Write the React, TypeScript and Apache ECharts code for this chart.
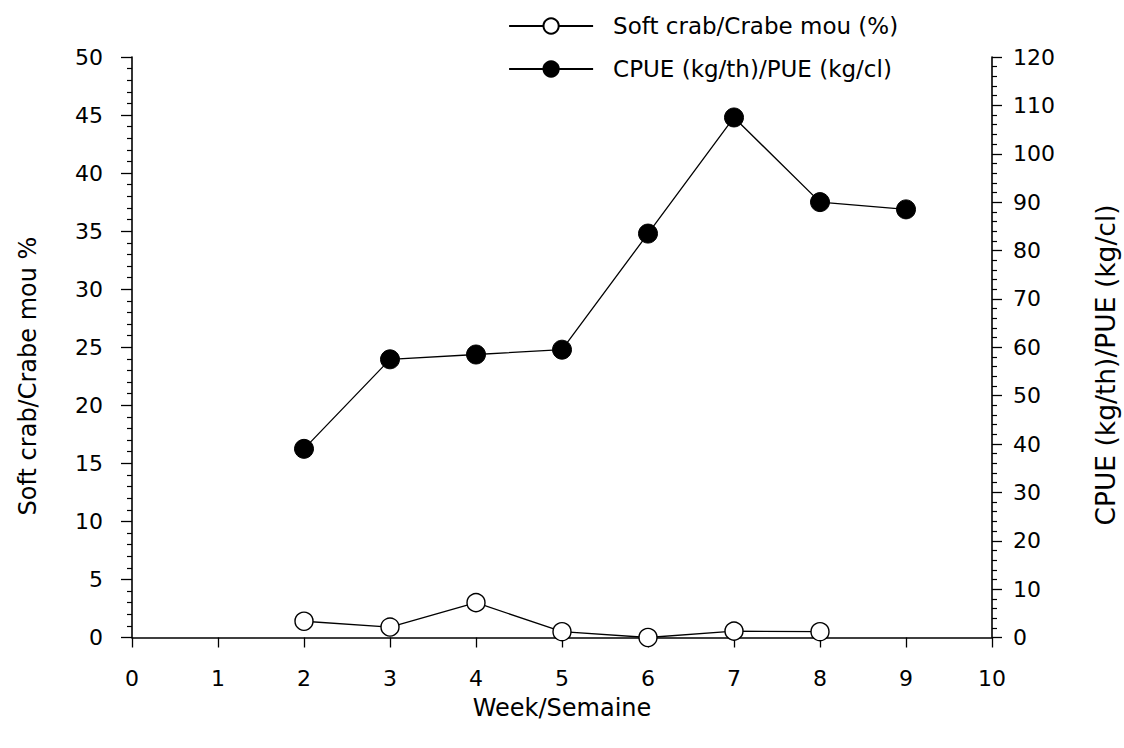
import React, { useEffect, useRef } from "react";
import * as echarts from "echarts";

// Weekly values
const softWeeks = [2, 3, 4, 5, 6, 7, 8];
const softCrabPct = [1.4, 0.9, 3.0, 0.5, 0, 0.55, 0.5];

const cpueWeeks = [2, 3, 4, 5, 6, 7, 8, 9];
const cpueValues = [39, 57.5, 58.5, 59.5, 83.5, 107.5, 90, 88.5];

const softName = "Soft crab/Crabe mou (%)";
const cpueName = "CPUE (kg/th)/PUE (kg/cl)";
const xTitle = "Week/Semaine";
const leftTitle = "Soft crab/Crabe mou %";
const rightTitle = "CPUE (kg/th)/PUE (kg/cl)";

const FONT = "DejaVu Sans";

export default function App() {
  const ref = useRef<HTMLDivElement>(null);

  useEffect(() => {
    if (!ref.current) return;
    const chart = echarts.init(ref.current, null, { renderer: "svg" });

    const softData = softWeeks.map((w, i) => [w, softCrabPct[i]]);
    const cpueData = cpueWeeks.map((w, i) => [w, cpueValues[i]]);

    const axisLine = { show: true, lineStyle: { color: "#000", width: 1.6 } };
    const labelStyle = { color: "#000", fontFamily: FONT, fontSize: 22 };

    chart.setOption({
      animation: false,
      backgroundColor: "#fff",
      grid: { left: 132, right: 132, top: 57, bottom: 110.5, containLabel: false },
      legend: {
        orient: "vertical",
        left: 503,
        top: 9,
        itemWidth: 84,
        itemHeight: 19,
        itemGap: 19,
        lineStyle: { width: 2.2 },
        textStyle: {
          color: "#000",
          fontFamily: FONT,
          fontSize: 23,
          lineHeight: 24,
          padding: [0, 0, 0, 15],
        },
        data: [softName, cpueName],
      },
      xAxis: {
        type: "value",
        min: 0,
        max: 10,
        interval: 1,
        axisLine,
        axisTick: { show: true, length: 10, lineStyle: { color: "#000", width: 1.3 } },
        axisLabel: { ...labelStyle, margin: 30 },
        splitLine: { show: false },
      },
      yAxis: [
        {
          type: "value",
          position: "left",
          min: 0,
          max: 50,
          interval: 5,
          axisLine,
          axisTick: { show: true, length: 11, lineStyle: { color: "#000", width: 1.3 } },
          minorTick: { show: true, splitNumber: 5, length: 5, lineStyle: { color: "#000", width: 1.2 } },
          axisLabel: { ...labelStyle, margin: 29 },
          splitLine: { show: false },
          minorSplitLine: { show: false },
        },
        {
          type: "value",
          position: "right",
          min: 0,
          max: 120,
          interval: 10,
          axisLine,
          axisTick: { show: true, length: 10, lineStyle: { color: "#000", width: 1.3 } },
          minorTick: { show: true, splitNumber: 5, length: 5, lineStyle: { color: "#000", width: 1.2 } },
          axisLabel: { ...labelStyle, margin: 21 },
          splitLine: { show: false },
          minorSplitLine: { show: false },
        },
      ],
      graphic: [
        {
          type: "text",
          x: 562,
          y: 708,
          style: {
            text: xTitle,
            fill: "#000",
            font: `24px "${FONT}"`,
            align: "center",
            verticalAlign: "middle",
          },
        },
        {
          type: "text",
          x: 28,
          y: 376,
          rotation: Math.PI / 2,
          style: {
            text: leftTitle,
            fill: "#000",
            font: `24px "${FONT}"`,
            align: "center",
            verticalAlign: "middle",
          },
        },
        {
          type: "text",
          x: 1105,
          y: 365,
          rotation: Math.PI / 2,
          style: {
            text: rightTitle,
            fill: "#000",
            font: `26.5px "${FONT}"`,
            align: "center",
            verticalAlign: "middle",
          },
        },
      ],
      series: [
        {
          name: softName,
          type: "line",
          yAxisIndex: 0,
          data: softData,
          symbol: "circle",
          symbolSize: 18,
          clip: false,
          lineStyle: { color: "#000", width: 1.3 },
          itemStyle: { color: "#fff", borderColor: "#000", borderWidth: 1.4 },
          z: 3,
        },
        {
          name: cpueName,
          type: "line",
          yAxisIndex: 1,
          data: cpueData,
          symbol: "circle",
          symbolSize: 19,
          clip: false,
          lineStyle: { color: "#000", width: 1.3 },
          itemStyle: { color: "#000", borderColor: "#000", borderWidth: 1 },
          z: 3,
        },
      ],
    });

    return () => chart.dispose();
  }, []);

  return (
    <div
      ref={ref}
      style={{ position: "fixed", left: 0, top: 0, width: 1124, height: 748, background: "#fff" }}
    />
  );
}
